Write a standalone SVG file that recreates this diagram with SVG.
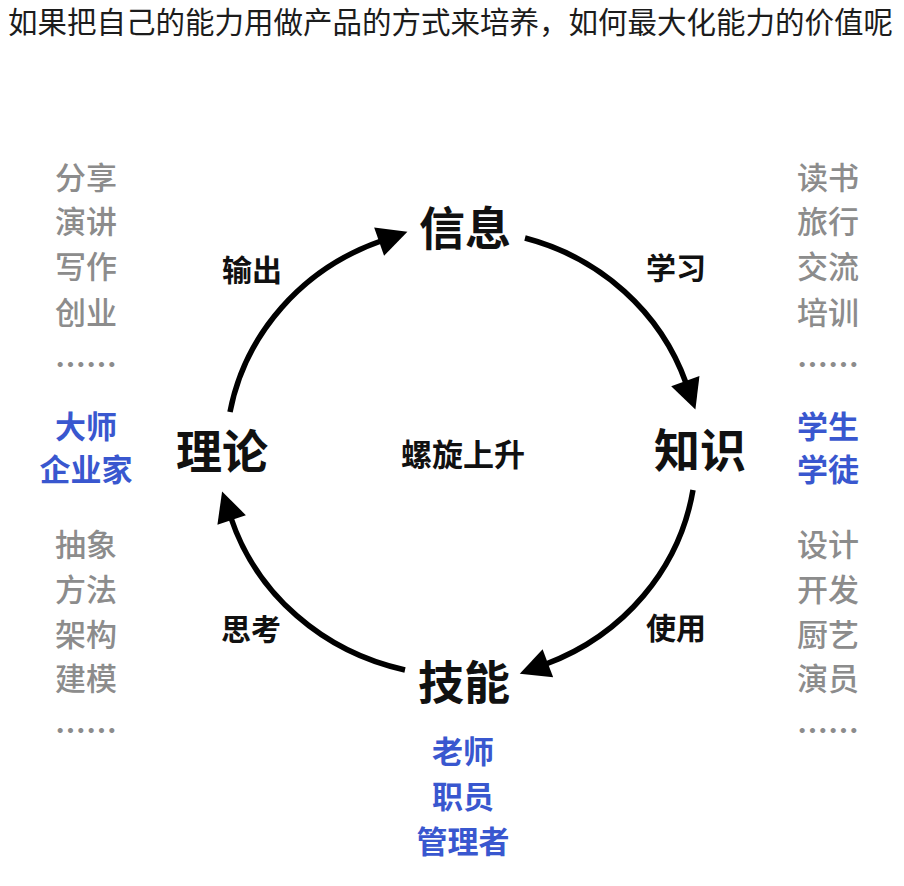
<svg xmlns="http://www.w3.org/2000/svg" width="904" height="886" viewBox="0 0 904 886">
<style>
text{font-family:"Noto Sans CJK SC","Noto Sans",sans-serif;text-anchor:middle;dominant-baseline:central}
.title{text-anchor:start;font-size:29.5px;fill:#1c1c1c}
.node{font-size:46px;font-weight:bold;fill:#111}
.mid{font-size:31px;font-weight:bold;fill:#111}
.elab{font-size:30px;font-weight:bold;fill:#111}
.gray{font-size:31px;font-weight:500;fill:#8c8c8c}
.dots{font-size:31px;font-weight:bold;fill:#8c8c8c}
.blue{font-size:31px;font-weight:bold;fill:#3957cf}
.arc{fill:none;stroke:#000;stroke-width:5.5}
</style>
<defs>
<marker id="ah" markerUnits="userSpaceOnUse" markerWidth="40" markerHeight="40" viewBox="-2 -20 40 40" refX="0" refY="0" orient="auto" overflow="visible">
<path d="M-2,-15 L28,0 L-2,15 Z" fill="#000"/>
</marker>
</defs>
<rect width="904" height="886" fill="#fff"/>
<text class="title" x="8" y="20">如果把自己的能力用做产品的方式来培养，如何最大化能力的价值呢</text>

<g id="connectors">
<path class="arc" d="M230 412 A236 226 0 0 1 381 241" marker-end="url(#ah)"/>
<path class="arc" d="M525 238 A236 226 0 0 1 686 383" marker-end="url(#ah)"/>
<path class="arc" d="M693 490 A236 226 0 0 1 546 664" marker-end="url(#ah)"/>
<path class="arc" d="M405 670 A240 226 0 0 1 231 518" marker-end="url(#ah)"/>
<text class="elab" x="252" y="268">输出</text>
<text class="elab" x="676" y="266">学习</text>
<text class="elab" x="676" y="626">使用</text>
<text class="elab" x="251" y="627">思考</text>
</g>

<g id="node-xinxi"><text class="node" x="465" y="225">信息</text></g>
<g id="node-zhishi"><text class="node" x="700" y="447">知识</text></g>
<g id="node-jineng"><text class="node" x="464" y="679">技能</text></g>
<g id="node-lilun"><text class="node" x="222" y="448">理论</text></g>
<g id="center-label"><text class="mid" x="463" y="452">螺旋上升</text></g>

<g id="list-left">
<text class="gray" x="86" y="175">分享</text>
<text class="gray" x="86" y="219">演讲</text>
<text class="gray" x="86" y="264">写作</text>
<text class="gray" x="86" y="310">创业</text>
<text class="dots" x="86" y="362">……</text>
<text class="blue" x="86" y="424">大师</text>
<text class="blue" x="86" y="467">企业家</text>
<text class="gray" x="86" y="542">抽象</text>
<text class="gray" x="86" y="587">方法</text>
<text class="gray" x="86" y="632">架构</text>
<text class="gray" x="86" y="676">建模</text>
<text class="dots" x="86" y="728">……</text>
</g>

<g id="list-right">
<text class="gray" x="828" y="175">读书</text>
<text class="gray" x="828" y="219">旅行</text>
<text class="gray" x="828" y="264">交流</text>
<text class="gray" x="828" y="310">培训</text>
<text class="dots" x="828" y="362">……</text>
<text class="blue" x="828" y="424">学生</text>
<text class="blue" x="828" y="467">学徒</text>
<text class="gray" x="828" y="542">设计</text>
<text class="gray" x="828" y="587">开发</text>
<text class="gray" x="828" y="632">厨艺</text>
<text class="gray" x="828" y="676">演员</text>
<text class="dots" x="828" y="728">……</text>
</g>

<g id="list-bottom">
<text class="blue" x="463" y="749">老师</text>
<text class="blue" x="463" y="794">职员</text>
<text class="blue" x="463" y="839">管理者</text>
</g>
</svg>
